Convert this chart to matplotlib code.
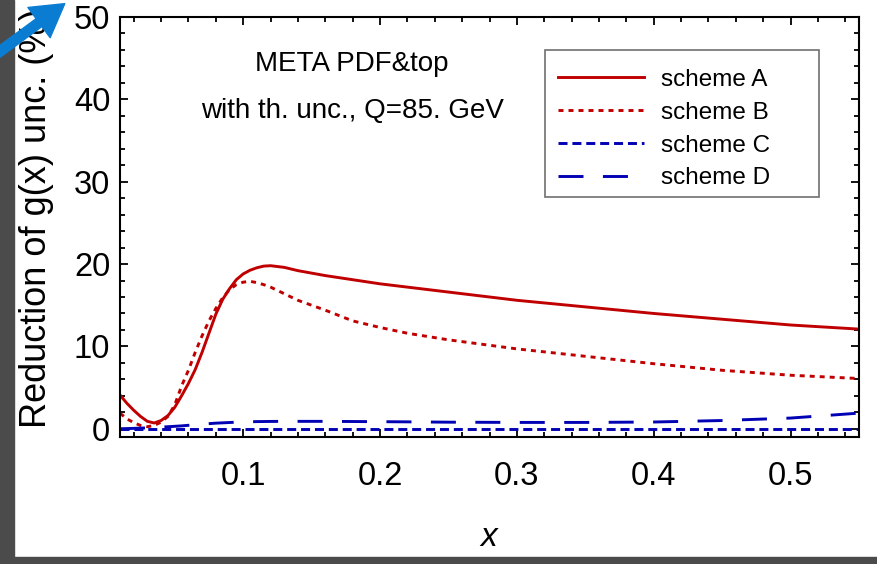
import matplotlib
matplotlib.use('Agg')
import matplotlib.pyplot as plt
import matplotlib.patches as mpatches
from matplotlib.transforms import IdentityTransform

# fonts: Arial-like
plt.rcParams['font.family'] = ['Liberation Sans', 'DejaVu Sans']
plt.rcParams['lines.scale_dashes'] = False

# data
x = [0.01, 0.015, 0.02, 0.025, 0.03, 0.035, 0.04, 0.045, 0.05, 0.055, 0.06, 0.065,
     0.07, 0.075, 0.08, 0.085, 0.09, 0.095, 0.10, 0.105, 0.11, 0.115, 0.12, 0.13,
     0.14, 0.15, 0.16, 0.18, 0.20, 0.22, 0.25, 0.30, 0.35, 0.40, 0.45, 0.50, 0.55]
scheme_a = [4.1, 3.1, 2.25, 1.5, 0.9, 0.7, 1.0, 1.6, 2.6, 4.0, 5.5, 7.2,
            9.3, 11.6, 13.9, 15.7, 17.0, 18.1, 18.8, 19.25, 19.55, 19.75, 19.8, 19.6,
            19.2, 18.9, 18.6, 18.1, 17.6, 17.2, 16.6, 15.6, 14.8, 14.0, 13.3, 12.6, 12.1]
scheme_b = [1.9, 1.2, 0.75, 0.4, 0.25, 0.4, 0.8, 1.5, 2.9, 5.2, 7.1, 9.3,
            11.3, 13.1, 14.6, 15.9, 16.9, 17.5, 17.8, 17.9, 17.75, 17.5, 17.2, 16.4,
            15.6, 15.0, 14.4, 13.1, 12.3, 11.6, 10.8, 9.7, 8.8, 7.9, 7.1, 6.5, 6.1]
scheme_c = [0.0] * len(x)
scheme_d = [0.0, 0.02, 0.05, 0.08, 0.1, 0.15, 0.2, 0.25, 0.3, 0.35, 0.42, 0.5,
            0.56, 0.62, 0.68, 0.72, 0.76, 0.8, 0.83, 0.85, 0.87, 0.88, 0.89, 0.9,
            0.9, 0.9, 0.9, 0.88, 0.86, 0.84, 0.8, 0.77, 0.77, 0.82, 1.0, 1.3, 1.9]

x_ticks = [0.1, 0.2, 0.3, 0.4, 0.5]
x_tick_labels = ['0.1', '0.2', '0.3', '0.4', '0.5']
y_ticks = [0, 10, 20, 30, 40, 50]
y_tick_labels = ['0', '10', '20', '30', '40', '50']

RED = '#c00000'
BLUE = '#0000b4'

W, H = 877, 564
fig = plt.figure(figsize=(W / 100, H / 100), dpi=100)
ax = fig.add_axes([120 / W, 1 - 437 / H, 739 / W, 420 / H])

ax.plot(x, scheme_a, color=RED, lw=2.1, label='scheme A')
ax.plot(x, scheme_b, color=RED, lw=2.1, ls=(0, (3.6, 3.6)), label='scheme B')
ax.plot(x, scheme_c, color=BLUE, lw=2.1, ls=(0, (6.5, 3.5)), label='scheme C')
ax.plot(x, scheme_d, color=BLUE, lw=2.1, ls=(0, (18, 14)), label='scheme D')

ax.set_xlim(0.01, 0.55)
ax.set_ylim(-1, 50)
ax.set_xticks(x_ticks)
ax.set_xticklabels(x_tick_labels)
ax.set_yticks(y_ticks)
ax.set_yticklabels(y_tick_labels)
ax.set_xticks([0.02 * i for i in range(1, 28) if i % 5 != 0], minor=True)
ax.set_yticks([2 * i for i in range(0, 26) if i % 5 != 0], minor=True)

ax.tick_params(which='both', direction='in', top=True, right=True, width=1.3)
ax.tick_params(which='major', length=6, labelsize=23.5)
ax.tick_params(which='minor', length=3.6)
ax.tick_params(axis='x', which='major', pad=17)
ax.tick_params(axis='y', which='major', pad=7)
for sp in ax.spines.values():
    sp.set_linewidth(1.5)

# labels
fig.text(489 / W, 1 - 537 / H, 'x', style='italic', fontsize=24, ha='center', va='center')
fig.text(19 / W, 1 - 428 / H, 'Reduction of g(x) unc. (%)', rotation=90,
         fontsize=26, ha='left', va='bottom')

ax.text(0.314, 0.888, 'META PDF&top', transform=ax.transAxes, fontsize=20,
        ha='center', va='center')
ax.text(0.314, 0.776, 'with th. unc., Q=85. GeV', transform=ax.transAxes, fontsize=20,
        ha='center', va='center')

# legend without its own frame, the box is drawn separately
ax.legend(loc='upper left', bbox_to_anchor=(0.575, 0.909), frameon=False,
          fontsize=17.5, handlelength=3.54, handletextpad=0.7, labelspacing=0.45,
          borderpad=0.55, borderaxespad=0)
ax.add_patch(mpatches.Rectangle((0.575, 0.571), 0.371, 0.35, transform=ax.transAxes,
                                fill=False, edgecolor='#707070', lw=1.2, zorder=4))

# grey screenshot frame
fig.add_artist(mpatches.Rectangle((0, 0), 14 / W, 1, transform=fig.transFigure,
                                  color='#4b4b4b', zorder=5))
fig.add_artist(mpatches.Rectangle((0, 0), 1, 7 / H, transform=fig.transFigure,
                                  color='#4b4b4b', zorder=5))

# blue pointer arrow top-left
arrow = mpatches.FancyArrowPatch((-5, H - 55), (67, H - 2), transform=IdentityTransform(),
                                 arrowstyle='simple,head_length=1.15,head_width=1.35,tail_width=0.35',
                                 mutation_scale=20, color='#0a7dd2', zorder=6)
fig.add_artist(arrow)

fig.savefig('out.png', dpi=100)
